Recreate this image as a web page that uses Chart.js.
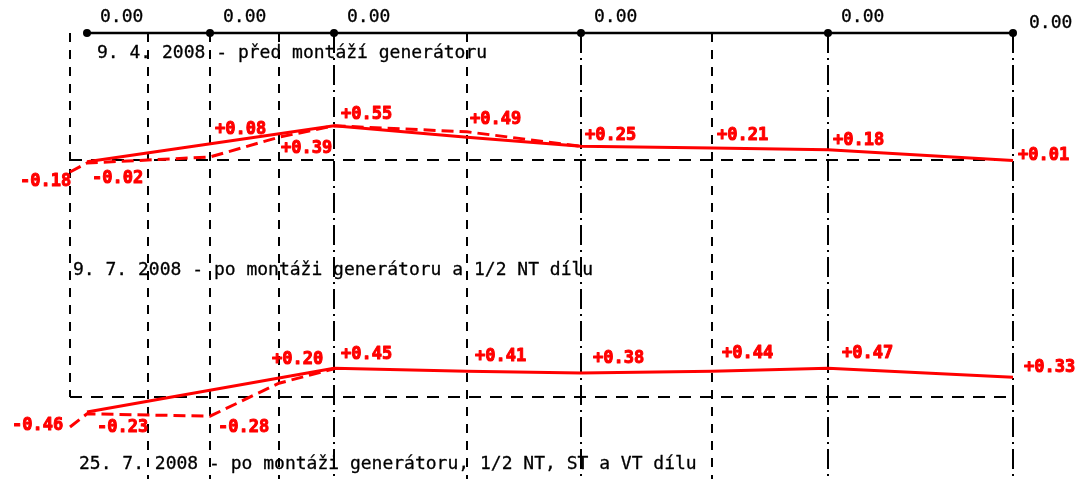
<!DOCTYPE html>
<html lang="cs">
<head>
<meta charset="UTF-8">
<title>Vyrovnání hřídele</title>
<script src="https://cdn.jsdelivr.net/npm/chart.js"></script>
<style>
  body { margin: 0; background: #fff; }
  #c { display: block; }
</style>
</head>
<body>
<canvas id="c" width="1081" height="479"></canvas>
<script>
// poloha ložisek / spojek podél hřídele (mm)
const gridPositions = [0, 780, 1400, 2090, 2640, 3970, 5110, 6420, 7580, 9430];
const lineKinds = ['dash', 'dash', 'dash', 'dash', 'dashdot', 'dash', 'dashdot', 'dash', 'dashdot', 'dashdot'];

// horní osa se snímači
const gaugePositions = [170, 1400, 2640, 5110, 7580, 9430];
const gaugeReadings = [0.00, 0.00, 0.00, 0.00, 0.00, 0.00];

// 9. 4. 2008
const p1SolidX = [170, 2640, 3970, 5110, 6420, 7580, 9430];
const p1SolidY = [-0.03, 0.57, 0.38, 0.23, 0.20, 0.17, -0.01];
const p1DashX = [0, 170, 1400, 2090, 2640, 3970, 5110];
const p1DashY = [-0.20, -0.05, 0.05, 0.38, 0.57, 0.47, 0.23];
const p1Labels = [-0.18, -0.02, 0.08, 0.39, 0.55, 0.49, 0.25, 0.21, 0.18, 0.01];

// 9. 7. 2008
const p2SolidX = [170, 2640, 3970, 5110, 6420, 7580, 9430];
const p2SolidY = [-0.25, 0.48, 0.43, 0.40, 0.43, 0.48, 0.33];
const p2DashX = [0, 170, 1400, 2090, 2640];
const p2DashY = [-0.50, -0.28, -0.32, 0.23, 0.47];
const p2Labels = [-0.46, -0.23, -0.28, 0.20, 0.45, 0.41, 0.38, 0.44, 0.47, 0.33];

const labelPositions = [0, 170, 1400, 2090, 2640, 3970, 5110, 6420, 7580, 9430];

const panelTitles = [
  '9. 4. 2008 - před montáží generátoru',
  '9. 7. 2008 - po montáži generátoru a 1/2 NT dílu',
  '25. 7. 2008 - po montáži generátoru, 1/2 NT, ST a VT dílu'
];

// umístění popisků (px)
const p1Offsets = [[-50, 11], [5, 17], [5, -26], [2, 12], [7, -12], [3, -11], [4, -9], [5, -12], [5, -9], [5, -4]];
const p2Offsets = [[-58, 1], [10, 17], [8, 14], [-7, -25], [7, -15], [8, -16], [12, -16], [10, -17], [14, -15], [11, -10]];
const titleSpots = [[97, 53], [73, 270], [79, 464]];

const RED = '#ff0000';
const MONO = '"DejaVu Sans Mono", "Liberation Mono", monospace';

const pts = (xs, ys) => xs.map((x, i) => ({ x: x, y: ys[i] }));
const fmt = v => (v > 0 ? '+' : '') + v.toFixed(2);

const redLine = (xs, ys, axis, dashed) => ({
  data: pts(xs, ys),
  yAxisID: axis,
  borderColor: RED,
  borderWidth: 3,
  borderDash: dashed ? [12, 6] : [],
  pointRadius: 0,
  tension: 0,
  clip: false
});

const heavyText = (ctx, t, x, y, w) => {
  ctx.lineWidth = w;
  ctx.strokeText(t, x, y);
  ctx.fillText(t, x, y);
};

const drawingPlugin = {
  id: 'drawing',
  beforeDatasetsDraw(chart) {
    const { ctx, chartArea, scales } = chart;
    const x = scales.x, yA = scales.yA, yB = scales.yB;
    ctx.save();
    ctx.strokeStyle = '#000';
    ctx.lineWidth = 2;
    // svislé čáry
    gridPositions.forEach((p, i) => {
      const px = Math.round(x.getPixelForValue(p));
      const bottom = i === 0 ? yB.getPixelForValue(0) : chart.height;
      ctx.setLineDash(lineKinds[i] === 'dashdot' ? [20, 5, 2, 5] : [9, 8]);
      ctx.beginPath();
      ctx.moveTo(px, chartArea.top);
      ctx.lineTo(px, bottom);
      ctx.stroke();
    });
    // nulové čáry
    ctx.setLineDash([12, 9]);
    [yA, yB].forEach(s => {
      const py = Math.round(s.getPixelForValue(0));
      ctx.beginPath();
      ctx.moveTo(x.getPixelForValue(gridPositions[0]), py);
      ctx.lineTo(x.getPixelForValue(gridPositions[gridPositions.length - 1]), py);
      ctx.stroke();
    });
    ctx.restore();
  },
  afterDatasetsDraw(chart) {
    const { ctx, scales } = chart;
    const x = scales.x;
    ctx.save();
    ctx.textBaseline = 'middle';
    ctx.textAlign = 'left';
    ctx.lineJoin = 'round';

    // hodnoty na horní ose
    ctx.fillStyle = '#000';
    ctx.strokeStyle = '#000';
    ctx.font = '18px ' + MONO;
    gaugeReadings.forEach((v, i) => {
      const px = x.getPixelForValue(gaugePositions[i]);
      const last = i === gaugeReadings.length - 1;
      heavyText(ctx, v.toFixed(2), px + (last ? 16 : 13), scales.yTop.getPixelForValue(0) + (last ? -10 : -16), 0.3);
    });

    // nadpisy
    panelTitles.forEach((t, i) => heavyText(ctx, t, titleSpots[i][0], titleSpots[i][1], 0.3));

    // červené popisky
    ctx.fillStyle = RED;
    ctx.strokeStyle = RED;
    ctx.font = 'bold 17px ' + MONO;
    [[p1Labels, p1Offsets, scales.yA], [p2Labels, p2Offsets, scales.yB]].forEach(([vals, offs, ys]) => {
      vals.forEach((v, i) => {
        const px = x.getPixelForValue(labelPositions[i]) + offs[i][0];
        const py = ys.getPixelForValue(v) + offs[i][1];
        heavyText(ctx, fmt(v), px, py, 1);
      });
    });
    ctx.restore();
  }
};

new Chart(document.getElementById('c'), {
  type: 'line',
  data: {
    datasets: [
      {
        data: pts(gaugePositions, gaugeReadings),
        yAxisID: 'yTop',
        borderColor: '#000',
        borderWidth: 2.5,
        pointRadius: 4,
        pointBackgroundColor: '#000',
        pointBorderColor: '#000',
        pointBorderWidth: 0,
        tension: 0,
        clip: false
      },
      redLine(p1DashX, p1DashY, 'yA', true),
      redLine(p1SolidX, p1SolidY, 'yA', false),
      redLine(p2DashX, p2DashY, 'yB', true),
      redLine(p2SolidX, p2SolidY, 'yB', false)
    ]
  },
  options: {
    responsive: false,
    animation: false,
    layout: { padding: { left: 70, right: 68, top: 33, bottom: 4 } },
    plugins: { legend: { display: false }, tooltip: { enabled: false } },
    scales: {
      x: { type: 'linear', min: 0, max: 9430, display: false },
      yA: { type: 'linear', min: -5.25, max: 2.1167, display: false },
      yB: { type: 'linear', min: -1.3, max: 6.0667, display: false },
      yTop: { type: 'linear', min: -1, max: 0, display: false }
    }
  },
  plugins: [drawingPlugin]
});
</script>
</body>
</html>
